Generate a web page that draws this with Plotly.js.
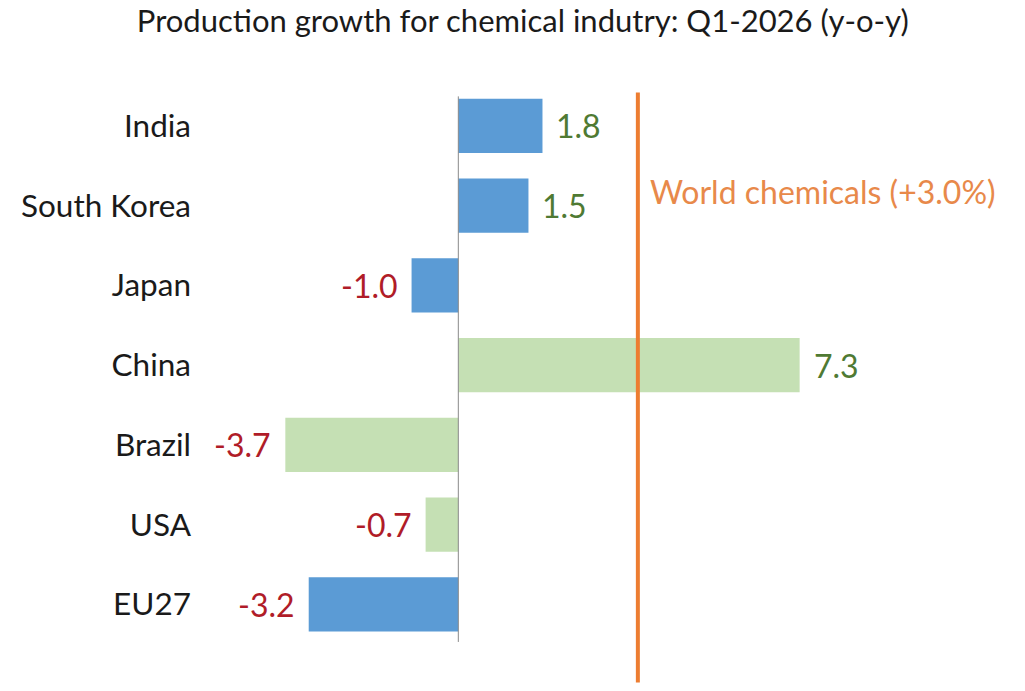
<!DOCTYPE html>
<html>
<head>
<meta charset="utf-8">
<script src="https://cdn.plot.ly/plotly-3.0.1.min.js"></script>
<style>html,body{margin:0;padding:0;background:#fff;}#chart{width:1025px;height:691px;}</style>
</head>
<body>
<div id="chart"></div>
<script>
const categories = ["India", "South Korea", "Japan", "China", "Brazil", "USA", "EU27"];
const growth = [1.8, 1.5, -1.0, 7.3, -3.7, -0.7, -3.2];
const barGroup = ["blue", "blue", "blue", "green", "green", "green", "blue"];
const worldGrowth = 3.0;
const worldLinePos = 3.84; // where the reference line is drawn on the value axis
const titleText = "Production growth for chemical indutry: Q1-2026 (y-o-y)";

const FONT = "Lato, 'Open Sans', sans-serif";
const colorMap = {blue: "#5b9bd5", green: "#c5e0b4"};
const idx = categories.map((c, i) => i);

const trace = {
  type: "bar",
  orientation: "h",
  y: idx,
  x: growth,
  marker: {color: barGroup.map(g => colorMap[g]), line: {width: 0}},
  hoverinfo: "x+text",
  text: categories,
  textposition: "none"
};

const annotations = growth.map((v, i) => ({
  x: v, y: idx[i], xref: "x", yref: "y",
  text: v.toFixed(1),
  showarrow: false,
  xanchor: v >= 0 ? "left" : "right",
  yanchor: "middle",
  xshift: v >= 0 ? 12 : -12,
  font: {family: FONT, size: 32, color: v >= 0 ? "#4f7a33" : "#b01c28"}
}));

annotations.push({
  x: worldLinePos, y: 0.82, xref: "x", yref: "y",
  text: "World chemicals (+" + worldGrowth.toFixed(1) + "%)",
  showarrow: false, xanchor: "left", yanchor: "middle", xshift: 10,
  font: {family: FONT, size: 32, color: "#e8894a"}
});

const layout = {
  width: 1025, height: 691,
  margin: {l: 200, r: 0, t: 90, b: 2},
  paper_bgcolor: "#fff", plot_bgcolor: "#fff",
  showlegend: false,
  bargap: 0.32,
  title: {text: titleText, x: 0.51, xanchor: "center", y: 0.97, yanchor: "middle",
          font: {family: FONT, size: 31, color: "#1a1a1a"}},
  xaxis: {range: [-5.525, 12.12], showgrid: false, zeroline: false, showticklabels: false,
          showline: false, ticks: ""},
  yaxis: {range: [7.06, -0.45], showgrid: false, zeroline: false, showline: false,
          tickmode: "array", tickvals: idx, ticktext: categories, ticks: "",
          ticklabelstandoff: 8,
          tickfont: {family: FONT, size: 31.5, color: "#1a1a1a"}},
  shapes: [
    {type: "line", xref: "x", yref: "y", x0: 0, x1: 0, y0: -0.37, y1: 6.47,
     line: {color: "#8a8a8a", width: 1}},
    {type: "line", xref: "x", yref: "y", x0: worldLinePos, x1: worldLinePos, y0: -0.42, y1: 6.98,
     line: {color: "#ed7d31", width: 4}}
  ],
  annotations: annotations
};

Plotly.newPlot("chart", [trace], layout, {displayModeBar: false, staticPlot: true});
</script>
</body>
</html>
